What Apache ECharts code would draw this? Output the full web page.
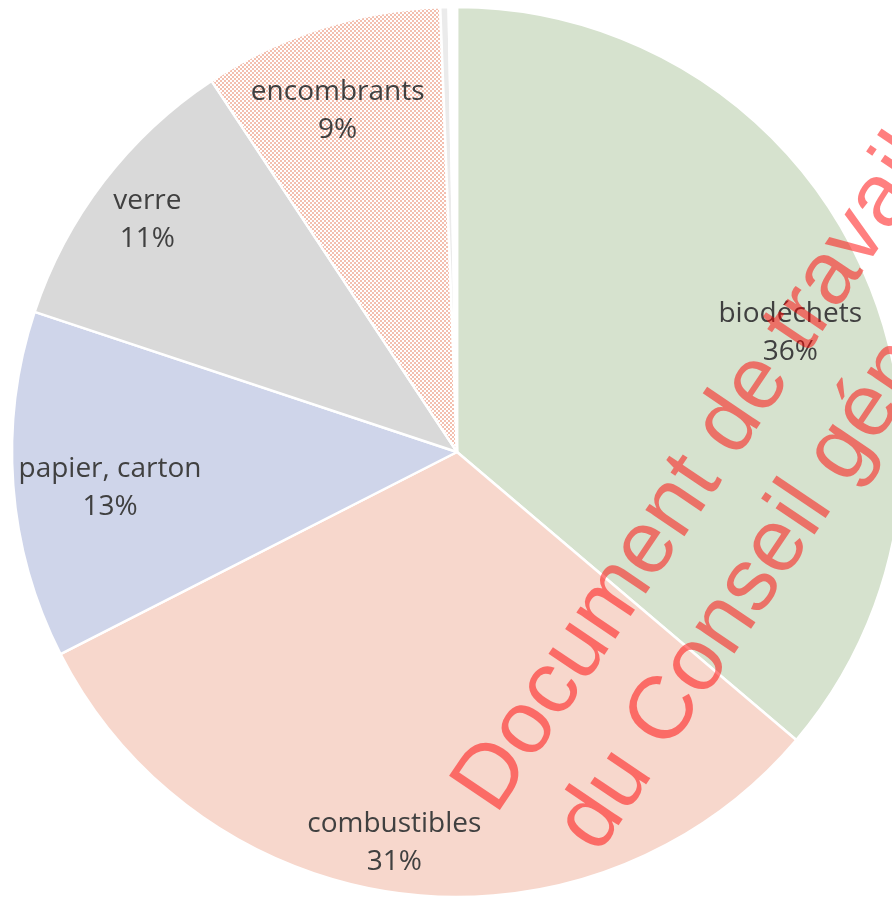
<!DOCTYPE html>
<html>
<head>
<meta charset="utf-8">
<script src="https://cdn.jsdelivr.net/npm/echarts@6/dist/echarts.min.js"></script>
<style>
html,body{margin:0;padding:0;background:#fff;}
#chart{width:892px;height:900px;}
</style>
</head>
<body>
<div id="chart"></div>
<script>
// Data (percent of total)
const categories = ['biodéchets', 'combustibles', 'papier, carton', 'verre', 'encombrants', 'autres', 'divers'];
const values = [36.2, 31.3, 12.6, 10.6, 8.7, 0.3, 0.3];
const showLabel = [true, true, true, true, true, false, false];
const watermarkLines = ['Document de travail', 'du Conseil général'];

// layout of labels (distance from centre, spacer above, horizontal padding), kept apart from the data
const labelLayout = {
  'biodéchets':     {r: 351, top: 60, pad: [0, 0, 0, 24]},
  'combustibles':   {r: 391, top: 0,  pad: [0, 34, 0, 0]},
  'papier, carton': {r: 346, top: 19, pad: [0, 0, 0, 2]},
  'verre':          {r: 387, top: 10, pad: [0, 0, 0, 0]},
  'encombrants':    {r: 364, top: 16, pad: [0, 14, 0, 0]}
};

// hatch pattern for "encombrants"
const pc = document.createElement('canvas');
pc.width = 4; pc.height = 4;
const pctx = pc.getContext('2d');
pctx.fillStyle = '#ffffff'; pctx.fillRect(0, 0, 4, 4);
pctx.fillStyle = '#F3BFAF';
pctx.fillRect(0, 0, 2, 2); pctx.fillRect(2, 2, 2, 2);

const colors = ['#D6E2CE', '#F7D7CC', '#CFD5EA', '#D9D9D9', {image: pc, repeat: 'repeat'}, '#EBEBEB', '#FFFFFF'];

const chart = echarts.init(document.getElementById('chart'), null, {renderer: 'canvas'});

const CX = 457, CY = 452, R = 445;

function labelSeries(target) {
  const L = labelLayout[target];
  return {
    type: 'pie',
    silent: true,
    center: [CX, CY],
    radius: [L.r - 1, L.r + 1],
    startAngle: 90,
    clockwise: true,
    avoidLabelOverlap: false,
    percentPrecision: 2,
    animation: false,
    z: 3,
    itemStyle: {borderWidth: 0},
    labelLine: {show: false},
    data: categories.map((name, i) => ({
      name: name,
      value: values[i],
      itemStyle: {color: 'rgba(0,0,0,0)'},
      label: {show: showLabel[i] && name === target}
    })),
    label: {
      position: 'inside',
      color: '#404040',
      fontFamily: 'Open Sans',
      fontSize: 28,
      lineHeight: 38,
      padding: L.pad,
      formatter: p => (L.top ? '{sp| }\n' : '') + '{t|' + p.name + '}\n{t|' + Math.round(p.percent) + '%}',
      rich: {
        t: {color: '#404040', fontFamily: 'Open Sans', fontSize: 28, lineHeight: 38},
        sp: {fontSize: 2, lineHeight: L.top || 1}
      }
    }
  };
}

const a = Math.PI * 56 / 180;

const series = [
  {
    type: 'pie',
    center: [CX, CY],
    radius: [0, R],
    startAngle: 90,
    clockwise: true,
    silent: true,
    animation: false,
    label: {show: false},
    labelLine: {show: false},
    itemStyle: {borderColor: '#ffffff', borderWidth: 2.5},
    data: categories.map((name, i) => ({name: name, value: values[i], itemStyle: {color: colors[i]}}))
  }
];
categories.forEach((name, i) => { if (showLabel[i]) series.push(labelSeries(name)); });

chart.setOption({
  animation: false,
  backgroundColor: '#ffffff',
  series: series,
  graphic: [{
    type: 'text',
    x: 741,
    y: 504,
    rotation: a,
    z: 100,
    silent: true,
    style: {
      text: watermarkLines.join('\n'),
      font: '89px "Liberation Sans"',
      fill: 'rgba(255,0,0,0.5)',
      align: 'center',
      verticalAlign: 'middle',
      lineHeight: 107
    }
  }]
});
</script>
</body>
</html>
